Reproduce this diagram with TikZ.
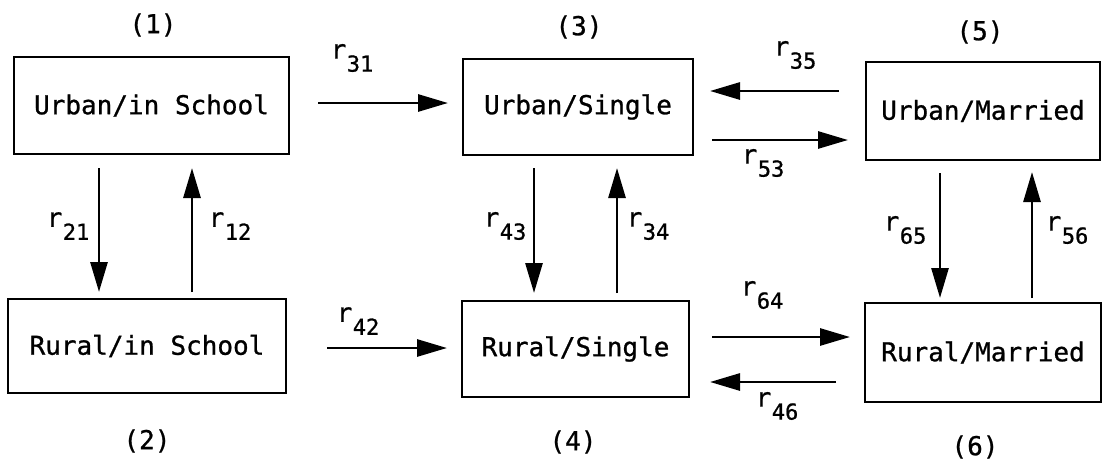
\documentclass[tikz,border=0pt]{standalone}
\usepackage{fontspec}
\setmainfont{DejaVu Sans Mono}
% slightly heavier than regular, lighter than the bold face
\newfontfamily\medmono{DejaVu Sans Mono}[RawFeature={embolden=0.9}]
\usetikzlibrary{arrows.meta}
% rate label: r followed by a lowered two-digit index
\newcommand{\rate}[1]{r\kern0.5pt\raisebox{-13pt}{\fontsize{22}{22}\selectfont #1}}
\tikzset{
  statebox/.style={draw, line width=2.8pt, inner sep=0pt, outer sep=0pt,
    font=\medmono\fontsize{26}{30}\selectfont},
  tag/.style={inner sep=0pt, font=\medmono\fontsize{26}{30}\selectfont},
  ratelbl/.style={inner sep=0pt, font=\medmono\fontsize{26}{30}\selectfont},
  flow/.style={line width=2.8pt, -{Triangle[length=30pt,width=17pt]}},
}
\begin{document}
\begin{tikzpicture}[x=1pt,y=-1pt]
  \useasboundingbox[fill=white] (0,0) rectangle (1103,463);

  % states
  \node[statebox, minimum width=275pt, minimum height=97pt] (b1) at (151.5,105.5) {Urban/in School};
  \node[statebox, minimum width=278pt, minimum height=94pt] (b2) at (147,346) {Rural/in School};
  \node[statebox, minimum width=230pt, minimum height=96pt] (b3) at (578,107) {Urban/Single};
  \node[statebox, minimum width=227pt, minimum height=96pt] (b4) at (575.5,349) {Rural/Single};
  \node[statebox, minimum width=234pt, minimum height=98pt] (b5) at (983,111) {Urban/Married};
  \node[statebox, minimum width=236pt, minimum height=99pt] (b6) at (983,352.5) {Rural/Married};

  % state numbers
  \node[tag] (t1) at (153,25) {(1)};
  \node[tag] (t2) at (147,441) {(2)};
  \node[tag] (t3) at (579,27) {(3)};
  \node[tag] (t4) at (573,442) {(4)};
  \node[tag] (t5) at (980,32) {(5)};
  \node[tag] (t6) at (975,447) {(6)};

  % transitions
  \draw[flow, shorten <=14pt, shorten >=7pt]  (b1.south -| 99,0)  -- (b2.north -| 99,0);
  \draw[flow, shorten <=7pt,  shorten >=14pt] (b2.north -| 192,0) -- (b1.south -| 192,0);
  \draw[flow, shorten <=29pt, shorten >=15pt] (b1.east |- 0,103)  -- (b3.west |- 0,103);
  \draw[flow, shorten <=41pt, shorten >=15pt] (b2.east |- 0,348)  -- (b4.west |- 0,348);
  \draw[flow, shorten <=13pt, shorten >=8pt]  (b3.south -| 534,0) -- (b4.north -| 534,0);
  \draw[flow, shorten <=8pt,  shorten >=13pt] (b4.north -| 617,0) -- (b3.south -| 617,0);
  \draw[flow, shorten <=27pt, shorten >=17pt] (b5.west |- 0,91)   -- (b3.east |- 0,91);
  \draw[flow, shorten <=19pt, shorten >=18pt] (b3.east |- 0,140)  -- (b5.west |- 0,140);
  \draw[flow, shorten <=13pt, shorten >=5pt]  (b5.south -| 940,0) -- (b6.north -| 940,0);
  \draw[flow, shorten <=5pt,  shorten >=12pt] (b6.north -| 1032,0) -- (b5.south -| 1032,0);
  \draw[flow, shorten <=23pt, shorten >=15pt] (b4.east |- 0,337)  -- (b6.west |- 0,337);
  \draw[flow, shorten <=29pt, shorten >=21pt] (b6.west |- 0,382)  -- (b4.east |- 0,382);

  % rate labels
  \node[ratelbl] (l21) at (68,226)  {\rate{21}};
  \node[ratelbl] (l12) at (230,226) {\rate{12}};
  \node[ratelbl] (l31) at (352,58)  {\rate{31}};
  \node[ratelbl] (l42) at (358,321) {\rate{42}};
  \node[ratelbl] (l43) at (505,226) {\rate{43}};
  \node[ratelbl] (l34) at (648,226) {\rate{34}};
  \node[ratelbl] (l35) at (795,55)  {\rate{35}};
  \node[ratelbl] (l53) at (763,163) {\rate{53}};
  \node[ratelbl] (l65) at (905,230) {\rate{65}};
  \node[ratelbl] (l56) at (1067,230) {\rate{56}};
  \node[ratelbl] (l64) at (762,295) {\rate{64}};
  \node[ratelbl] (l46) at (777,406) {\rate{46}};
\end{tikzpicture}
\end{document}
